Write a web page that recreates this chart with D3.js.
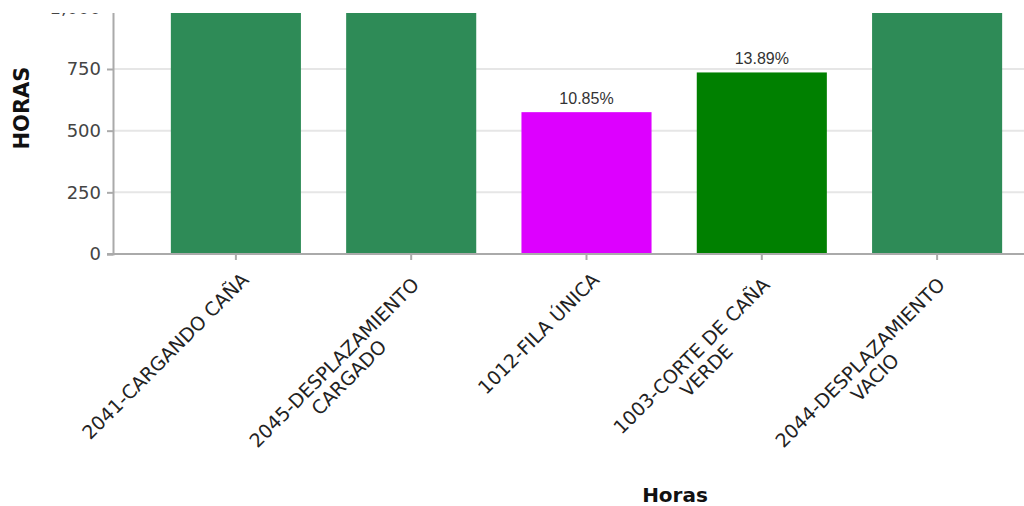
<!DOCTYPE html>
<html>
<head>
<meta charset="utf-8">
<script src="https://cdn.jsdelivr.net/npm/d3@7"></script>
<style>
  html, body { margin: 0; padding: 0; background: #fff; }
  svg { display: block; }
</style>
</head>
<body>
<svg id="chart" width="1024" height="506"></svg>
<script>
const categories = ["2041-CARGANDO CAÑA", "2045-DESPLAZAMIENTO CARGADO", "1012-FILA ÚNICA", "1003-CORTE DE CAÑA VERDE", "2044-DESPLAZAMIENTO VACIO"];
const labelLines = [["2041-CARGANDO CAÑA"], ["2045-DESPLAZAMIENTO", "CARGADO"], ["1012-FILA ÚNICA"], ["1003-CORTE DE CAÑA", "VERDE"], ["2044-DESPLAZAMIENTO", "VACIO"]];
const values = [1500, 1350, 575, 736, 1139];
const barColors = ["#2e8b57", "#2e8b57", "#dd00ff", "#008000", "#2e8b57"];
const yTicks = [0, 250, 500, 750, 1000];
const yTitle = "HORAS";
const xTitle = "Horas";

const total = d3.sum(values);
const svg = d3.select("#chart");

const topY = 13, leftX = 113, rightX = 1060, bottomY = 254;
const x = d3.scaleBand().domain(categories).range([leftX, rightX]).paddingInner(0.258).paddingOuter(0.33);
const y = d3.scaleLinear().domain([0, 1600]).range([bottomY, bottomY - 1600 * 0.24667]);

// gridlines
svg.append("g").selectAll("line").data(yTicks.filter(d => d > 0)).join("line")
  .attr("x1", leftX).attr("x2", 1024)
  .attr("y1", d => y(d)).attr("y2", d => y(d))
  .attr("stroke", "#e6e6e6").attr("stroke-width", 2);

// bars
svg.append("g").selectAll("rect").data(values).join("rect")
  .attr("x", (d, i) => x(categories[i]))
  .attr("width", x.bandwidth())
  .attr("y", d => y(d))
  .attr("height", d => y(0) - y(d))
  .attr("fill", (d, i) => barColors[i]);

// percent labels (only those that fall inside the visible window)
svg.append("g").selectAll("text")
  .data(values.map((v, i) => ({ v, i })).filter(d => y(d.v) - 8 - 12 > topY))
  .join("text")
  .attr("x", d => x(categories[d.i]) + x.bandwidth() / 2)
  .attr("y", d => y(d.v) - 8)
  .attr("text-anchor", "middle")
  .attr("font-family", "Liberation Sans, Arial, sans-serif")
  .attr("font-size", 16)
  .attr("fill", "#333")
  .text(d => (d.v / total * 100).toFixed(2) + "%");

// y axis
const yAxis = svg.append("g").attr("transform", `translate(${leftX},0)`)
  .call(d3.axisLeft(y).tickValues(yTicks).tickSize(6).tickPadding(6).tickFormat(d3.format(",")));
yAxis.select(".domain").attr("stroke", "#aaa").attr("stroke-width", 2);
yAxis.selectAll(".tick line").attr("stroke", "#aaa").attr("stroke-width", 2);
yAxis.selectAll(".tick text").attr("font-family", "DejaVu Sans, sans-serif").attr("font-size", 18).attr("fill", "#444");

// x axis
const xAxis = svg.append("g").attr("transform", `translate(0,${bottomY})`)
  .call(d3.axisBottom(x).tickSize(6).tickFormat(""));
xAxis.select(".domain").attr("d", `M${leftX - 6},0H1024`).attr("stroke", "#aaa").attr("stroke-width", 2);
xAxis.selectAll(".tick line").attr("stroke", "#aaa").attr("stroke-width", 2);

// rotated x labels
const lh = 21;
const lab = svg.append("g").selectAll("g").data(categories).join("g")
  .attr("transform", d => `translate(${x(d) + x.bandwidth() / 2 + 14},${bottomY + 27}) rotate(-45)`);
lab.each(function (d, i) {
  const g = d3.select(this);
  const lines = labelLines[i];
  const shift = lines.length > 1 ? -7 : 0;
  const texts = lines.map((t, j) => g.append("text")
    .attr("font-family", "DejaVu Sans, sans-serif")
    .attr("font-size", 19)
    .attr("fill", "#222")
    .attr("text-anchor", "middle")
    .attr("y", j * lh)
    .text(t));
  const maxW = d3.max(texts, t => t.node().getComputedTextLength());
  texts.forEach(t => t.attr("x", -maxW / 2 + shift));
});

// axis titles
svg.append("text")
  .attr("transform", "translate(29,108) rotate(-90)")
  .attr("text-anchor", "middle")
  .attr("font-family", "DejaVu Sans, sans-serif")
  .attr("font-weight", "bold")
  .attr("font-size", 21)
  .attr("fill", "#111")
  .text(yTitle);
svg.append("text")
  .attr("x", 675).attr("y", 502)
  .attr("text-anchor", "middle")
  .attr("font-family", "DejaVu Sans, sans-serif")
  .attr("font-weight", "bold")
  .attr("font-size", 20)
  .attr("fill", "#111")
  .text(xTitle);

// top cut-off
svg.append("rect").attr("x", 0).attr("y", 0).attr("width", 1024).attr("height", topY).attr("fill", "#fff");
</script>
</body>
</html>
